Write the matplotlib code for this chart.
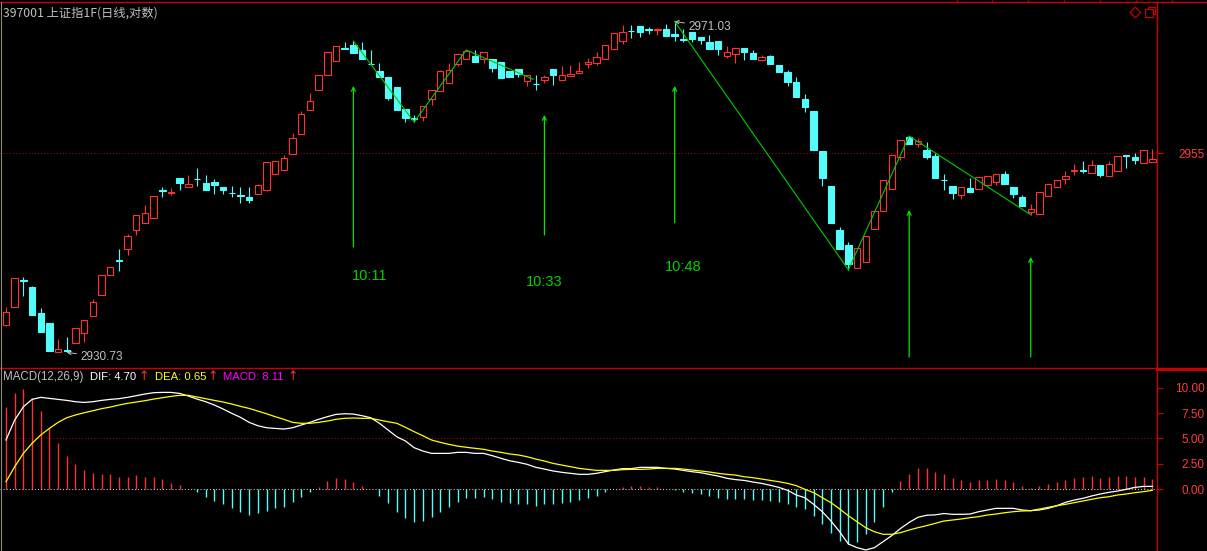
import matplotlib
matplotlib.use('Agg')
import matplotlib.pyplot as plt
from matplotlib.patches import Rectangle, Polygon

W, H = 1207, 551

RED = '#ff3232'
CYAN = '#54fcfc'
BORDER = '#c80000'
GRAY = '#c0c0c0'
GREEN = '#00e800'
LATIN = ['Liberation Sans', 'DejaVu Sans']
CJK = ['Noto Sans CJK SC', 'DejaVu Sans']

title = '397001 上证指1F(日线,对数)'

# daily candles
opens = [2934.08, 2936.31, 2939.52, 2938.67, 2935.54, 2934.28, 2930.80, 2931.00, 2931.85, 2933.07,
         2935.21, 2937.77, 2940.20, 2941.99, 2943.37, 2945.68, 2946.53, 2947.14, 2950.48, 2950.11,
         2951.94, 2950.92, 2951.89, 2951.33, 2951.45, 2950.84, 2950.19, 2949.87, 2949.63, 2950.06,
         2950.55, 2952.50, 2952.99, 2954.94, 2957.37, 2960.22, 2962.66, 2964.48, 2966.19, 2967.81,
         2968.17, 2967.53, 2965.89, 2965.01, 2964.27, 2963.02, 2960.38, 2959.28, 2959.44, 2961.56,
         2962.61, 2963.51, 2965.86, 2966.50, 2966.83, 2966.43, 2966.43, 2966.10, 2965.01, 2965.21,
         2963.82, 2963.46, 2963.91, 2965.21, 2963.95, 2964.36, 2964.73, 2965.82, 2966.02, 2966.43,
         2967.65, 2968.62, 2969.91, 2970.48, 2970.08, 2969.96, 2970.12, 2969.55, 2968.90, 2969.79,
         2969.18, 2968.57, 2968.62, 2966.87, 2967.04, 2967.77, 2967.16, 2966.38, 2966.83, 2965.74,
         2964.92, 2963.63, 2961.60, 2960.14, 2955.26, 2951.00, 2945.65, 2943.82, 2940.98, 2941.79,
         2945.80, 2948.00, 2950.67, 2954.57, 2957.01, 2956.12, 2955.39, 2954.66, 2951.77, 2951.00,
         2949.87, 2950.72, 2950.60, 2951.16, 2951.53, 2952.46, 2950.84, 2949.63, 2947.87, 2947.56,
         2949.75, 2950.84, 2951.82, 2952.83, 2952.91, 2952.55, 2953.52, 2952.26, 2952.87, 2954.78,
         2954.57, 2953.84, 2953.96]
highs = [2936.31, 2939.76, 2939.96, 2938.86, 2936.11, 2934.28, 2932.37, 2932.58, 2933.68, 2934.65,
         2937.24, 2940.13, 2941.10, 2943.33, 2945.16, 2947.44, 2948.69, 2949.75, 2950.85, 2950.72,
         2951.94, 2952.34, 2953.16, 2952.34, 2951.82, 2950.84, 2951.00, 2950.84, 2950.84, 2951.21,
         2953.89, 2954.01, 2954.78, 2957.42, 2960.14, 2962.36, 2964.48, 2967.28, 2968.01, 2968.55,
         2968.65, 2968.55, 2967.56, 2966.02, 2964.27, 2963.02, 2960.38, 2959.65, 2960.74, 2962.69,
         2965.13, 2965.94, 2967.04, 2967.56, 2967.50, 2967.28, 2966.43, 2966.10, 2965.01, 2965.21,
         2964.48, 2964.48, 2964.52, 2965.21, 2965.61, 2965.74, 2966.10, 2966.59, 2967.32, 2968.13,
         2969.60, 2970.61, 2970.61, 2970.48, 2970.33, 2970.24, 2970.73, 2971.03, 2970.08, 2969.79,
         2969.18, 2969.39, 2968.62, 2968.05, 2967.77, 2967.77, 2967.56, 2966.92, 2966.95, 2965.74,
         2965.13, 2964.24, 2962.20, 2960.14, 2955.26, 2951.00, 2945.97, 2944.15, 2943.42, 2944.92,
         2947.96, 2951.70, 2954.78, 2956.60, 2957.09, 2956.85, 2956.32, 2954.98, 2952.46, 2951.00,
         2950.92, 2951.94, 2952.06, 2952.18, 2952.43, 2952.83, 2950.84, 2949.91, 2948.81, 2950.24,
         2951.21, 2951.70, 2952.79, 2953.68, 2954.01, 2954.13, 2953.52, 2954.01, 2954.62, 2954.78,
         2954.98, 2955.35, 2955.47]
lows = [2933.96, 2936.31, 2937.65, 2935.30, 2933.26, 2930.95, 2930.78, 2930.73, 2931.85, 2932.04,
        2935.21, 2937.77, 2940.20, 2940.69, 2942.60, 2945.04, 2946.53, 2947.14, 2949.70, 2949.91,
        2950.52, 2950.92, 2951.04, 2950.52, 2950.03, 2950.03, 2949.70, 2948.90, 2948.90, 2950.06,
        2950.39, 2952.43, 2952.99, 2954.94, 2957.37, 2960.22, 2962.66, 2964.48, 2966.19, 2967.72,
        2967.16, 2966.50, 2965.82, 2964.31, 2961.47, 2960.26, 2958.85, 2958.78, 2958.95, 2960.87,
        2962.61, 2963.51, 2965.61, 2966.50, 2966.10, 2966.02, 2964.92, 2964.15, 2964.27, 2964.31,
        2963.18, 2962.69, 2963.58, 2963.30, 2963.95, 2964.36, 2964.73, 2965.41, 2965.74, 2966.43,
        2967.65, 2968.26, 2968.99, 2969.11, 2969.47, 2969.35, 2969.30, 2968.69, 2968.57, 2968.57,
        2968.26, 2967.65, 2966.95, 2966.62, 2965.94, 2966.34, 2966.47, 2966.22, 2965.89, 2964.88,
        2963.18, 2961.88, 2960.05, 2955.39, 2951.04, 2946.53, 2943.37, 2940.80, 2940.98, 2941.79,
        2945.80, 2948.00, 2950.67, 2954.17, 2956.12, 2955.79, 2954.29, 2952.01, 2950.52, 2949.42,
        2949.42, 2950.31, 2950.60, 2951.16, 2951.12, 2951.28, 2949.58, 2948.60, 2947.50, 2947.56,
        2949.75, 2950.84, 2951.21, 2952.34, 2952.62, 2952.55, 2952.14, 2952.26, 2952.87, 2953.23,
        2953.72, 2953.84, 2953.96]
closes = [2935.70, 2939.76, 2939.44, 2935.30, 2933.26, 2930.95, 2931.12, 2930.91, 2933.68, 2934.65,
          2936.84, 2940.13, 2941.10, 2941.91, 2944.88, 2947.44, 2947.68, 2949.75, 2950.39, 2950.27,
          2951.40, 2951.21, 2951.82, 2950.52, 2951.16, 2950.55, 2950.11, 2949.75, 2949.33, 2951.09,
          2953.89, 2954.01, 2954.38, 2956.81, 2959.73, 2961.32, 2964.48, 2967.28, 2968.01, 2967.72,
          2967.16, 2966.50, 2965.82, 2964.31, 2961.75, 2960.26, 2959.25, 2959.20, 2960.74, 2962.69,
          2965.01, 2965.13, 2967.04, 2967.44, 2966.10, 2967.28, 2965.37, 2964.15, 2964.27, 2964.64,
          2964.48, 2963.39, 2964.31, 2964.52, 2964.48, 2964.64, 2965.01, 2966.10, 2966.67, 2968.13,
          2969.60, 2969.72, 2969.84, 2969.79, 2970.00, 2970.08, 2969.30, 2969.23, 2968.82, 2968.90,
          2968.78, 2967.65, 2967.68, 2967.28, 2967.77, 2967.35, 2966.47, 2966.67, 2965.89, 2964.88,
          2963.70, 2961.88, 2960.66, 2955.39, 2952.01, 2946.53, 2943.37, 2941.51, 2943.42, 2944.92,
          2947.96, 2951.70, 2954.78, 2956.60, 2956.12, 2956.45, 2954.57, 2952.01, 2951.70, 2950.19,
          2950.92, 2950.31, 2952.06, 2952.18, 2952.43, 2951.28, 2950.06, 2948.60, 2948.20, 2950.24,
          2951.21, 2951.70, 2952.18, 2952.91, 2952.83, 2953.52, 2952.38, 2953.65, 2954.62, 2954.69,
          2954.20, 2955.35, 2954.25]

# MACD(12,26,9)
dif = [4.84, 6.81, 8.12, 8.85, 9.05, 8.95, 8.85, 8.75, 8.62, 8.55, 8.62, 8.75, 8.85, 8.92, 9.05,
       9.21, 9.38, 9.51, 9.54, 9.54, 9.44, 9.18, 8.88, 8.62, 8.29, 7.90, 7.47, 7.08, 6.58, 6.25,
       6.05, 5.99, 5.92, 6.05, 6.32, 6.58, 6.88, 7.14, 7.37, 7.43, 7.40, 7.24, 7.04, 6.49, 5.82,
       5.16, 4.74, 4.08, 3.75, 3.52, 3.52, 3.52, 3.62, 3.62, 3.52, 3.52, 3.29, 3.03, 2.79, 2.63,
       2.44, 2.14, 1.97, 1.78, 1.65, 1.55, 1.45, 1.45, 1.55, 1.71, 1.88, 2.01, 2.01, 2.14, 2.14,
       2.14, 2.04, 1.97, 1.84, 1.71, 1.61, 1.45, 1.28, 1.06, 0.93, 0.85, 0.69, 0.56, 0.37, 0.16,
       -0.13, -0.59, -0.86, -1.51, -2.24, -3.16, -4.22, -5.43, -5.79, -6.02, -5.79, -5.20, -4.60, -3.90, -3.30,
       -2.80, -2.59, -2.55, -2.42, -2.50, -2.50, -2.47, -2.24, -2.07, -1.91, -1.91, -1.91, -2.07, -2.14, -2.07,
       -1.91, -1.65, -1.32, -1.09, -0.92, -0.69, -0.49, -0.33, -0.20, -0.03, 0.16, 0.26, 0.26]
dea = [0.72, 2.20, 3.52, 4.51, 5.33, 5.99, 6.58, 7.04, 7.31, 7.53, 7.73, 7.93, 8.09, 8.29, 8.46,
       8.59, 8.72, 8.88, 9.01, 9.15, 9.25, 9.25, 9.08, 8.92, 8.75, 8.59, 8.39, 8.16, 7.96, 7.70,
       7.43, 7.14, 6.88, 6.58, 6.49, 6.49, 6.58, 6.71, 6.88, 6.98, 7.01, 6.98, 6.98, 6.81, 6.64,
       6.49, 6.09, 5.66, 5.26, 4.84, 4.61, 4.41, 4.24, 4.12, 4.02, 3.92, 3.75, 3.62, 3.46, 3.36,
       3.19, 2.96, 2.76, 2.53, 2.37, 2.20, 2.04, 1.94, 1.84, 1.84, 1.84, 1.91, 1.94, 1.94, 1.97,
       2.04, 2.04, 2.04, 1.97, 1.88, 1.78, 1.68, 1.55, 1.45, 1.38, 1.21, 1.12, 0.99, 0.86, 0.72,
       0.56, 0.33, -0.03, -0.36, -0.86, -1.35, -1.97, -2.64, -3.23, -3.82, -4.22, -4.47, -4.47, -4.31, -4.05,
       -3.82, -3.62, -3.39, -3.16, -3.06, -2.96, -2.83, -2.73, -2.57, -2.47, -2.34, -2.24, -2.17, -2.14, -1.97,
       -1.81, -1.65, -1.51, -1.35, -1.18, -1.02, -0.86, -0.76, -0.59, -0.49, -0.36, -0.26, -0.13]
macd = [8.11, 9.48, 9.87, 8.95, 7.70, 6.05, 4.54, 3.29, 2.50, 1.88, 1.58, 1.48, 1.48, 1.18, 1.18,
        1.41, 1.18, 1.18, 0.99, 0.59, 0.39, 0.03, -0.27, -0.76, -1.15, -1.51, -1.91, -2.30, -2.60, -2.34,
        -2.14, -1.91, -1.75, -1.25, -0.76, -0.27, 0.23, 0.82, 1.06, 0.99, 0.72, 0.33, 0.02, -0.66, -1.41,
        -2.24, -2.83, -3.23, -3.13, -2.73, -2.24, -1.75, -1.25, -0.86, -0.86, -0.76, -0.96, -1.25, -1.35, -1.45,
        -1.45, -1.65, -1.51, -1.45, -1.35, -1.25, -1.06, -0.86, -0.66, -0.27, 0.03, 0.20, 0.33, 0.30, 0.20,
        0.20, 0.03, -0.10, -0.27, -0.37, -0.46, -0.66, -0.86, -0.96, -0.96, -0.96, -1.06, -1.06, -1.15, -1.25,
        -1.45, -1.75, -1.97, -2.64, -3.43, -4.37, -5.10, -5.46, -5.20, -4.47, -3.29, -1.81, -0.33, 0.79, 1.48,
        2.07, 2.07, 1.68, 1.48, 1.09, 0.89, 0.69, 0.89, 0.89, 0.99, 0.89, 0.69, 0.30, 0.10, 0.33,
        0.49, 0.69, 0.89, 1.09, 1.18, 1.28, 1.09, 1.18, 1.28, 1.28, 1.18, 1.18, 0.99]
legend_vals = [('DIF', 4.70, 'white'), ('DEA', 0.65, '#ffff00'), ('MACD', 8.11, '#ff00ff')]

# zigzag turning points (bar index, price)
zz1_idx = [40, 47, 53, 60.7]
zz1_px = [2968.65, 2958.78, 2967.56, 2963.99]
zz2_idx = [77, 97, 104, 118]
zz2_px = [2971.03, 2940.80, 2957.09, 2947.50]

# signal arrows
sig_idx = [40, 62, 77, 104, 118]
sig_tail = [2943.58, 2945.04, 2946.53, 2930.18, 2930.18]
sig_head = [2963.18, 2959.65, 2963.18, 2948.08, 2942.36]
sig_text = ['10:11', '10:33', '10:48']
sig_text_x = [41.9, 61.95, 77.96]
sig_text_y = [2940.04, 2939.31, 2941.14]

price_grid = 2955
macd_ticks = [0, 2.5, 5, 7.5, 10]

n = len(opens)
x = list(range(n))
xlim = (-0.69, 132.54)


def px_box(x0, y0, x1, y1):
    return [x0 / W, 1 - y1 / H, (x1 - x0) / W, (y1 - y0) / H]


def right_axis(ax, ticks, labels):
    ax.set_xticks([])
    ax.yaxis.tick_right()
    ax.set_yticks(ticks)
    ax.set_yticklabels(labels, fontsize=8.5, family=LATIN, color='#ff3c3c')
    ax.tick_params(axis='y', color=BORDER, length=4.3, width=0.9, pad=30.2)
    for t in ax.get_yticklabels():
        t.set_ha('right')
    for s in ax.spines.values():
        s.set_visible(False)
    ax.set_facecolor('black')
    ax.set_xlim(*xlim)


fig = plt.figure(figsize=(W / 100, H / 100), dpi=100, facecolor='black')

# price panel
ax_p = fig.add_axes(px_box(0, 3, 1157, 368))
right_axis(ax_p, [price_grid], [str(price_grid)])
ax_p.set_ylim(2928.84, 2973.28)
ax_p.axhline(price_grid, color='#b40000', lw=0.75, ls=(0, (1, 2)))

bw = 0.74
for i in range(n):
    o, h, l, c = opens[i], highs[i], lows[i], closes[i]
    if c >= o:
        ax_p.vlines(i, c, h, color=RED, lw=0.8)
        ax_p.vlines(i, l, o, color=RED, lw=0.8)
        ax_p.add_patch(Rectangle((i - bw / 2, o), bw, c - o, facecolor='black',
                                 edgecolor=RED, lw=0.8, zorder=3))
    else:
        ax_p.vlines(i, l, h, color=CYAN, lw=0.8)
        ax_p.add_patch(Rectangle((i - bw / 2, c), bw, o - c, facecolor=CYAN,
                                 edgecolor=CYAN, lw=0.8, zorder=3))

ax_p.plot(zz1_idx, zz1_px, color='#00cc00', lw=0.8, zorder=4)
ax_p.plot(zz2_idx, zz2_px, color='#00cc00', lw=0.8, zorder=4)

for i in range(len(sig_idx)):
    ax_p.annotate('', xy=(sig_idx[i], sig_head[i]), xytext=(sig_idx[i], sig_tail[i]),
                  arrowprops=dict(arrowstyle='->', color=GREEN, lw=0.9,
                                  shrinkA=0, shrinkB=0, mutation_scale=7))
for i in range(len(sig_text)):
    ax_p.text(sig_text_x[i], sig_text_y[i], sig_text[i], color='#00d200',
              fontsize=10.5, family=LATIN, ha='center', va='center')

# max / min labels
hi_i = highs.index(max(highs))
lo_i = lows.index(min(lows))
ax_p.annotate('%.2f' % highs[hi_i], xy=(hi_i, highs[hi_i]), xytext=(hi_i + 1.6, highs[hi_i] - 0.67),
              color=GRAY, fontsize=8.5, family=LATIN, ha='left', va='center',
              arrowprops=dict(arrowstyle='->', color=GRAY, lw=0.7, shrinkA=1, shrinkB=0,
                              mutation_scale=6))
ax_p.annotate('%.2f' % lows[lo_i], xy=(lo_i, lows[lo_i]), xytext=(lo_i + 1.6, lows[lo_i] - 0.5),
              color=GRAY, fontsize=8.5, family=LATIN, ha='left', va='center',
              arrowprops=dict(arrowstyle='->', color=GRAY, lw=0.7, shrinkA=1, shrinkB=0,
                              mutation_scale=6))

# MACD panel
ax_m = fig.add_axes(px_box(0, 369, 1157, 551))
right_axis(ax_m, macd_ticks, ['%.2f' % v for v in macd_ticks])
ax_m.set_ylim(-6.12, 11.85)
ax_m.axhline(5, color='#b40000', lw=0.75, ls=(0, (1, 2)))
bar_colors = [RED if v >= 0 else CYAN for v in macd]
ax_m.vlines(x, 0, macd, colors=bar_colors, lw=1.0)
ax_m.axhline(0, color='#d0d0d0', lw=0.75, ls=(0, (1, 2)))
ax_m.plot(x, dif, color='white', lw=0.9)
ax_m.plot(x, dea, color='#ffff00', lw=0.9)

# frame, title and legend in pixel coordinates
ov = fig.add_axes([0, 0, 1, 1], zorder=10)
ov.set_xlim(0, W)
ov.set_ylim(H, 0)
ov.set_facecolor('none')
ov.axis('off')
ov.plot([0, W], [2, 2], color=BORDER, lw=1)
ov.plot([0, W], [368.3, 368.3], color=BORDER, lw=1)
ov.plot([1157, W], [369.8, 369.8], color=BORDER, lw=1.5)
ov.plot([1157, 1157], [2, H], color=BORDER, lw=1)
ov.plot([1, 1], [2, H], color='#8c8c78', lw=0.8)
ov.vlines([957, 992, 1028, 1064, 1100, 1136, 1172], 0, 2, color=BORDER, lw=1)
ov.add_patch(Polygon([(1135.3, 7.3), (1140.7, 12.5), (1135.3, 17.7), (1130, 12.5)],
                     closed=True, fill=False, edgecolor=BORDER, lw=0.9))
ov.add_patch(Rectangle((1147.7, 6.7), 7.3, 7.6, facecolor='black', edgecolor=BORDER, lw=0.9))
ov.add_patch(Rectangle((1145.3, 9.3), 7.4, 7.4, facecolor='black', edgecolor=BORDER, lw=0.9))

ov.text(3, 13, title, color=GRAY, fontsize=8.8, family=CJK, va='center', ha='left')

ov.text(3, 377, 'MACD(12,26,9)', color=GRAY, fontsize=8.3, family=LATIN, va='center')
leg_x = [90, 155, 223]
arrow_x = [144, 213, 293]
for (name, val, col), lx, axx in zip(legend_vals, leg_x, arrow_x):
    ov.text(lx, 377, '%s: %.2f' % (name, val), color=col, fontsize=8.1, family=LATIN, va='center')
    ov.text(axx, 376, '↑', color=RED, fontsize=9, family=['DejaVu Sans'], va='center', ha='center')

fig.savefig('out.png', dpi=100, facecolor='black')
